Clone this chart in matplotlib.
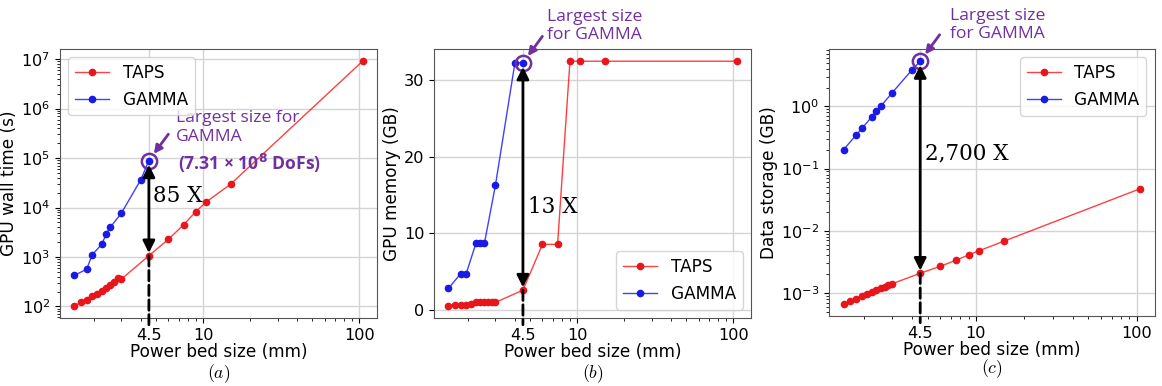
import matplotlib
matplotlib.use('Agg')
import matplotlib.pyplot as plt
from matplotlib.ticker import NullFormatter

# x values (power bed size, mm)
x_taps = [1.5, 1.65, 1.8, 1.95, 2.1, 2.25, 2.4, 2.55, 2.7, 2.85, 3.0, 4.5, 6.0, 7.5, 9.0, 10.5, 15.0, 105.0]
x_gamma = [1.5, 1.8, 1.95, 2.25, 2.4, 2.55, 3.0, 4.0, 4.5]

# (a) GPU wall time (s)
time_taps = [103, 120, 132, 159, 175, 207, 238, 265, 305, 379, 357, 1057, 2280, 4450, 8300, 13000, 29600, 9.1e6]
time_gamma = [423, 567, 1107, 1815, 2940, 4010, 7690, 36800, 88900]

# (b) GPU memory (GB)
mem_taps = [0.56, 0.65, 0.65, 0.65, 0.78, 1.04, 1.04, 1.04, 1.04, 1.1, 1.0, 2.6, 8.58, 8.58, 32.5, 32.5, 32.5, 32.5]
mem_gamma = [2.82, 4.77, 4.77, 8.71, 8.71, 8.71, 16.3, 32.3, 32.3]

# (c) data storage (GB)
store_taps = [6.66e-4, 7.35e-4, 8.0e-4, 8.8e-4, 9.75e-4, 1.04e-3, 1.12e-3, 1.19e-3, 1.26e-3, 1.32e-3,
              1.40e-3, 2.07e-3, 2.68e-3, 3.35e-3, 4.08e-3, 4.79e-3, 6.82e-3, 0.0473]
store_gamma = [0.201, 0.35, 0.443, 0.68, 0.83, 1.0, 1.64, 3.88, 5.35]

x_ticks = [4.5, 10, 100]
x_tick_labels = ['4.5', '10', '100']
x_mark = 4.5

PURPLE = '#7030a0'
FS = 12.2
TICK_FS = 11.6
NOTE_FS = 12.6

fig = plt.figure(figsize=(11.62, 3.86), dpi=100)
ax_a = fig.add_axes([0.0516, 0.1762, 0.2728, 0.6969])
ax_b = fig.add_axes([0.3735, 0.1762, 0.2728, 0.6969])
ax_c = fig.add_axes([0.7132, 0.1813, 0.2806, 0.6917])


def draw_panel(ax, y_taps, y_gamma, ylabel, logy, legend_loc, ratio_text, ratio_pos, tag, tag_y):
    ax.plot(x_taps, y_taps, '-o', color=(1, 0, 0, 0.75), mfc='#e8151b', mec='#e8151b',
            markersize=4.5, linewidth=1, label='TAPS')
    ax.plot(x_gamma, y_gamma, '-o', color=(0, 0, 1, 0.75), mfc='#1a1ae6', mec='#1a1ae6',
            markersize=4.5, linewidth=1, label='GAMMA')
    ax.set_xscale('log')
    if logy:
        ax.set_yscale('log')
    ax.set_xticks(x_ticks)
    ax.set_xticklabels(x_tick_labels)
    ax.xaxis.set_minor_formatter(NullFormatter())
    ax.tick_params(labelsize=TICK_FS)
    ax.grid(True, color='#d4d4d4', linewidth=1)
    ax.set_axisbelow(True)
    ax.set_xlabel('Power bed size (mm)', fontsize=FS, labelpad=0)
    ax.set_ylabel(ylabel, fontsize=FS, labelpad=2)
    ax.legend(loc=legend_loc, fontsize=FS)
    for s in ax.spines.values():
        s.set_color('#555555')

    top = y_gamma[-1]
    bottom = y_taps[x_taps.index(x_mark)]
    # vertical double arrow between the two methods
    ax.annotate('', xy=(x_mark, bottom), xytext=(x_mark, top),
                arrowprops=dict(arrowstyle='<|-|>', color='black', lw=2,
                                mutation_scale=18, shrinkA=3, shrinkB=2))
    # dashed drop line to the axis
    ax.annotate('', xy=(x_mark, -0.025), xycoords=('data', 'axes fraction'),
                xytext=(x_mark, bottom), textcoords='data',
                arrowprops=dict(arrowstyle='-', color='black', lw=2, linestyle='--',
                                shrinkA=0, shrinkB=0), annotation_clip=False)
    ax.text(ratio_pos[0], ratio_pos[1], ratio_text, transform=ax.transAxes,
            fontsize=15.5, family='DejaVu Serif', va='center', ha='left')

    # purple circle + arrow marking the largest GAMMA case
    ax.plot([x_mark], [top], 'o', mfc='none', mec=PURPLE, mew=1.8, markersize=11)
    ax.annotate('', xy=(x_mark, top), xytext=(14, 19), textcoords='offset points',
                arrowprops=dict(arrowstyle='-|>', color=PURPLE, lw=2,
                                mutation_scale=12, shrinkA=0, shrinkB=6))

    ax.text(0.5, tag_y, tag, transform=ax.transAxes, fontsize=FS + 0.5, ha='center', va='center',
            math_fontfamily='cm')


draw_panel(ax_a, time_taps, time_gamma, 'GPU wall time (s)', True, 'upper left',
           '85 X', (0.293, 0.454), '$(a)$', -0.208)
draw_panel(ax_b, mem_taps, mem_gamma, 'GPU memory (GB)', False, 'lower right',
           '13 X', (0.297, 0.411), '$(b)$', -0.208)
draw_panel(ax_c, store_taps, store_gamma, 'Data storage (GB)', True, 'upper right',
           '2,700 X', (0.296, 0.609), '$(c)$', -0.198)

ax_b.set_yticks([0, 10, 20, 30])

# annotation text
ax_a.text(0.366, 0.772, 'Largest size for\nGAMMA', transform=ax_a.transAxes, fontsize=NOTE_FS,
          family='Open Sans', color=PURPLE, va='top', ha='left', linespacing=1.2)
ax_a.text(0.372, 0.53, '(7.31 × 10$^{\\mathbf{8}}$ DoFs)', transform=ax_a.transAxes, fontsize=NOTE_FS,
          family='Open Sans', fontweight='bold', color=PURPLE, va='bottom', ha='left')
ax_b.text(0.357, 1.15, 'Largest size\nfor GAMMA', transform=ax_b.transAxes, fontsize=NOTE_FS,
          family='Open Sans', color=PURPLE, va='top', ha='left', linespacing=1.2)
ax_c.text(0.372, 1.155, 'Largest size\nfor GAMMA', transform=ax_c.transAxes, fontsize=NOTE_FS,
          family='Open Sans', color=PURPLE, va='top', ha='left', linespacing=1.2)

fig.savefig('out.png', dpi=100)
